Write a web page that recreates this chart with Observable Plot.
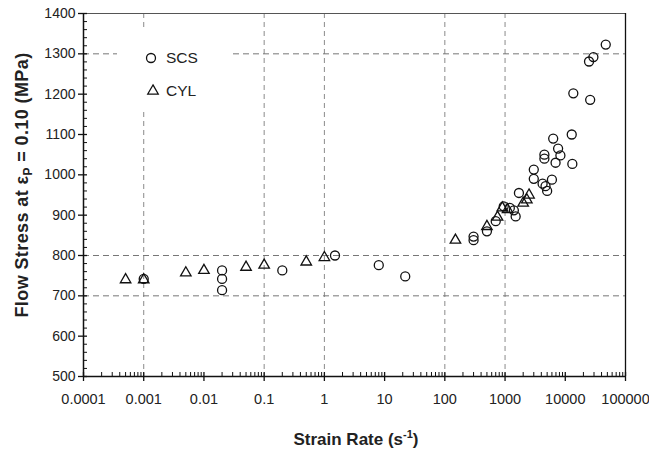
<!DOCTYPE html>
<html>
<head>
<meta charset="utf-8">
<script src="https://cdn.jsdelivr.net/npm/d3@7"></script>
<script src="https://cdn.jsdelivr.net/npm/@observablehq/plot@0.6"></script>
<style>
  html, body { margin: 0; padding: 0; background: #fff; }
  #chart svg { display: block; }
</style>
</head>
<body>
<div id="chart"></div>
<script>
// ---- data ----
const scsRate = [0.001, 0.02, 0.02, 0.02, 0.2, 1.5, 8, 22, 300, 300, 500, 700, 950, 1200, 1400, 1500, 1700,
  3000, 3000, 4200, 4700, 5000, 6000, 6900, 4500, 4500, 8300, 7600, 6300, 12800, 13100, 13600, 25900, 24800, 29300, 47000];
const scsStress = [742, 763, 742, 714, 763, 800, 776, 748, 847, 838, 860, 885, 922, 918, 912, 897, 955,
  1013, 990, 978, 972, 960, 988, 1030, 1040, 1050, 1048, 1065, 1090, 1100, 1027, 1202, 1186, 1281, 1292, 1323];
const cylRate = [0.0005, 0.001, 0.005, 0.01, 0.05, 0.1, 0.5, 1.0, 150, 500, 750, 900, 1100, 2000, 2300, 2500];
const cylStress = [740, 740, 757, 763, 771, 776, 784, 795, 838, 872, 895, 918, 914, 930, 938, 950];

const xTicks = [0.0001, 0.001, 0.01, 0.1, 1, 10, 100, 1000, 10000, 100000];
const xTickLabels = ["0.0001", "0.001", "0.01", "0.1", "1", "10", "100", "1000", "10000", "100000"];
const yTicks = [500, 600, 700, 800, 900, 1000, 1100, 1200, 1300, 1400];
const xGrid = [0.001, 0.1, 1, 100, 1000];
const yGrid = [700, 800, 1300];
const seriesNames = ["SCS", "CYL"];

// ---- build tables ----
const scs = scsRate.map((r, i) => ({rate: r, stress: scsStress[i]}));
const cyl = cylRate.map((r, i) => ({rate: r, stress: cylStress[i]}));
const xMinor = [];
for (let k = 0; k < xTicks.length - 1; k++) for (let m = 2; m <= 9; m++) xMinor.push(xTicks[k] * m);
const yMinor = [];
for (let v = 500; v < 1400; v += 20) if (v % 100 !== 0) yMinor.push(v);

const W = 649, H = 452;
const mL = 83, mR = 24, mT = 13, mB = 76;
const pw = W - mL - mR, ph = H - mT - mB;

const plot = Plot.plot({
  width: W, height: H,
  marginLeft: mL, marginRight: mR, marginTop: mT, marginBottom: mB,
  style: {fontFamily: "'Liberation Sans', Arial, sans-serif", background: "#fff", color: "#222"},
  x: {type: "log", domain: [1e-4, 1e5]},
  y: {domain: [500, 1400]},
  marks: [
    Plot.ruleX(xGrid, {x: d => d, stroke: "#8a8a8a", strokeDasharray: "5,4"}),
    Plot.ruleY(yGrid, {y: d => d, stroke: "#777", strokeDasharray: "6,4"}),
    Plot.frame({stroke: "#555", strokeWidth: 1}),
    Plot.ruleX([1e-4], {stroke: "#111", strokeWidth: 1.5}),
    Plot.ruleY([500], {stroke: "#111", strokeWidth: 1.5}),
    Plot.ruleX([1e5], {stroke: "#111", strokeWidth: 1.3}),
    // y ticks
    Plot.tickY(yTicks, {y: d => d, dx: -5, insetRight: pw - 9, stroke: "#111", strokeWidth: 1.3}),
    Plot.tickY(yMinor, {y: d => d, insetRight: pw - 4, stroke: "#111", strokeWidth: 1}),
    // x ticks
    Plot.tickX(xTicks, {x: d => d, dy: 5, insetTop: ph - 9, stroke: "#111", strokeWidth: 1.3}),
    Plot.tickX(xMinor, {x: d => d, insetTop: ph - 4, stroke: "#111", strokeWidth: 1}),
    Plot.axisX({ticks: xTicks, tickSize: 0, tickPadding: 17, fontSize: 14.5, fill: "#222",
      tickFormat: d => xTickLabels[xTicks.indexOf(d)] ?? "", label: null}),
    Plot.axisY({ticks: yTicks, tickSize: 0, tickPadding: 8, fontSize: 14, fill: "#222",
      tickFormat: d => String(d), label: null}),
    // data
    Plot.dot(scs, {x: "rate", y: "stress", r: 4.5, stroke: "#111", strokeWidth: 1.3, fill: "none"}),
    Plot.dot(cyl, {x: "rate", y: "stress", symbol: "triangle", r: 3.9, stroke: "#111", strokeWidth: 1.3, fill: "none"})
  ]
});

const svg = d3.select(plot);
// legend
const lg = svg.append("g").attr("text-anchor", "start");
lg.append("rect").attr("x", 117).attr("y", 28).attr("width", 115).attr("height", 80).attr("fill", "#fff");
lg.append("circle").attr("cx", 151).attr("cy", 58).attr("r", 4.5).attr("fill", "none").attr("stroke", "#111").attr("stroke-width", 1.3);
lg.append("path").attr("transform", "translate(153,91)").attr("d", d3.symbol(d3.symbolTriangle, Math.PI * 3.9 * 3.9)())
  .attr("fill", "none").attr("stroke", "#111").attr("stroke-width", 1.3);
lg.append("text").attr("x", 166).attr("y", 63).attr("font-size", 15.5).attr("fill", "#222").text(seriesNames[0]);
lg.append("text").attr("x", 166).attr("y", 96).attr("font-size", 15.5).attr("fill", "#222").text(seriesNames[1]);

// axis titles
const xt = svg.append("text").attr("x", 356).attr("y", 445).attr("text-anchor", "middle")
  .attr("font-size", 17).attr("font-weight", "bold").attr("fill", "#222");
xt.append("tspan").text("Strain Rate (s");
xt.append("tspan").attr("font-size", 11).attr("dy", -7).text("-1");
xt.append("tspan").attr("dy", 7).text(")");

const yt = svg.append("text").attr("transform", "translate(28,185) rotate(-90)").attr("text-anchor", "middle")
  .attr("font-size", 18).attr("font-weight", "bold").attr("fill", "#222").attr("letter-spacing", 0.4);
yt.append("tspan").text("Flow Stress at ε");
yt.append("tspan").attr("font-size", 12).attr("dy", 4).text("P");
yt.append("tspan").attr("dy", -4).text(" = 0.10 (MPa)");

document.getElementById("chart").appendChild(plot);
</script>
</body>
</html>
